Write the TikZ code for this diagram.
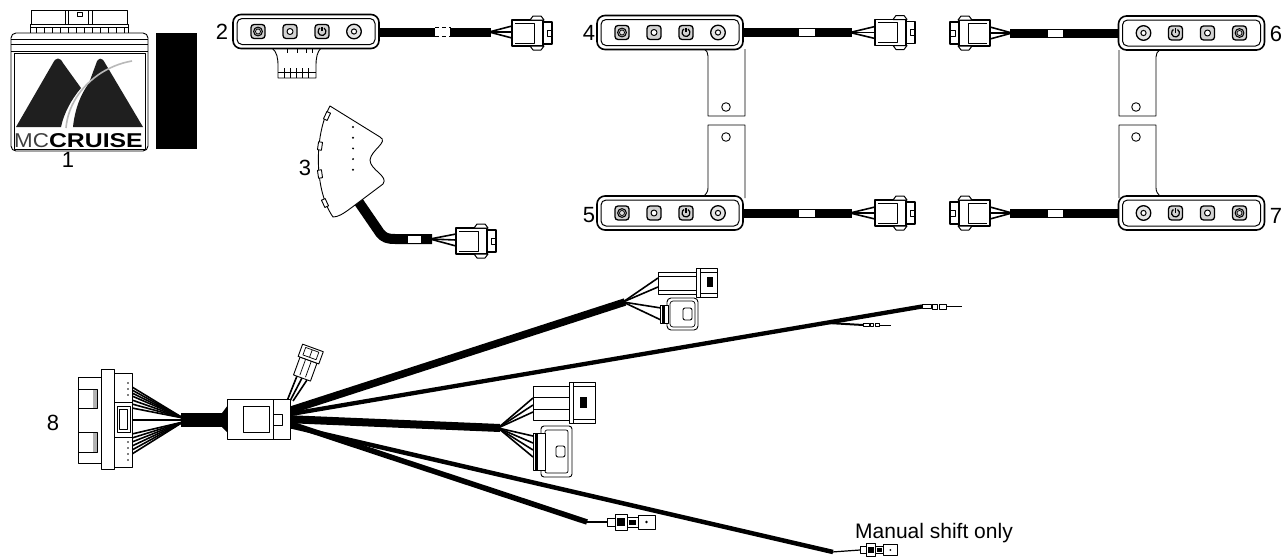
\documentclass[tikz,border=0pt]{standalone}
\usepackage{fontspec}
\setmainfont{Liberation Sans}
\tikzset{
  ln/.style={draw=black,line width=0.9pt},
  thin/.style={draw=black,line width=0.7pt},
  wire/.style={draw=black,line width=1.6pt},
  cable/.style={draw=black,line width=9pt},
  lbl/.style={font=\fontsize{22}{26}\selectfont,inner sep=0pt,anchor=base},
  btn/.style={draw=black,fill=gray!35,line width=1.3pt,rounded corners=3pt},
  btnring/.pic={
    \draw[btn] (-7,-7) rectangle (7,7);
    \draw[line width=1pt,fill=gray!65] (0,0) circle[radius=4.4];
    \draw[line width=0.7pt,fill=gray!25] (0,0) circle[radius=2.5];
  },
  btnhole/.pic={
    \draw[btn] (-7,-7) rectangle (7,7);
    \draw[line width=1pt,fill=white] (0,0) circle[radius=3];
  },
  btnpower/.pic={
    \draw[btn] (-7,-7) rectangle (7,7);
    \draw[line width=1.2pt] (-60:4) arc[start angle=-60,end angle=240,radius=4];
    \draw[line width=1.2pt] (0,-0.5) -- (0,-5);
  },
  btnround/.pic={
    \draw[line width=1.3pt,fill=gray!20] (0,0) circle[radius=7.3];
    \draw[line width=1pt,fill=white] (0,0) circle[radius=2.6];
  },
  panelframe/.pic={
    \draw[line width=1.6pt,fill=white,rounded corners=8pt] (-73,-17) rectangle (73,17);
    \draw[line width=1pt,rounded corners=5pt] (-69,-13) rectangle (69,13);
  },
  panelA/.pic={
    \pic {panelframe};
    \pic at (-48,0) {btnring};
    \pic at (-16,0) {btnhole};
    \pic at (16,0) {btnpower};
    \pic at (48,0) {btnround};
  },
  panelB/.pic={
    \pic {panelframe};
    \pic at (-48,0) {btnround};
    \pic at (-16,0) {btnpower};
    \pic at (16,0) {btnhole};
    \pic at (48,0) {btnring};
  },
  plug/.pic={
    \draw[line width=1.1pt,fill=white] (0,-13) rectangle (31,13);
    \draw[thin] (3,-10) -- (22,-10) -- (22,10) -- (3,10);
    \draw[line width=1pt,fill=white] (18,-13) -- (21,-17) -- (29,-17) -- (32,-13) -- cycle;
    \draw[line width=1pt,fill=white] (18,13) -- (21,17) -- (29,17) -- (32,13) -- cycle;
    \draw[line width=1.1pt,fill=white] (31,-11) rectangle (40,11);
    \draw[thin] (35,-3) rectangle (40,3);
  },
  plugtwo/.pic={
    \draw[ln,fill=white] (0,-9) rectangle (19,9);
    \draw[thin] (2,-3) -- (19,-3) (2,3) -- (19,3);
    \draw[ln,fill=white] (19,-11) rectangle (32,11);
    \draw[thin] (22,-7) rectangle (30,7) (22,0) -- (30,0);
  },
  termplug/.pic={
    \draw[ln,fill=white] (0,-4) rectangle (8,4);
    \draw[ln,fill=white] (8,-8) rectangle (20,8);
    \fill (10,-4) rectangle (18,4);
    \draw[ln,fill=white] (20,-5) rectangle (31,5);
    \fill (22,-2.5) rectangle (29,2.5);
    \draw[ln,fill=white] (31,-7) rectangle (48,7);
    \fill (39.5,0) circle[radius=1.3];
  },
  tinypin/.pic={
    \draw[thin,fill=white] (0,-2) rectangle (9,2);
    \draw[thin,fill=white] (10,-2.5) rectangle (15,2.5);
    \draw[thin,fill=white] (17,-2.5) rectangle (24,2.5);
    \draw[line width=1pt] (24,0) -- (40,0);
  },
}
\begin{document}
\begin{tikzpicture}[x=1pt,y=-1pt,line join=round]
\useasboundingbox (0,0) rectangle (1288,557);

% ---------- 1: control unit ----------
\draw[ln,fill=white] (31,10) rectangle (127,24);
\draw[ln] (65,10) -- (65,24) (68,10) -- (68,24) (88,10) -- (88,24) (92,10) -- (92,24);
\draw[ln] (77,12) rectangle (82,16);
\draw[ln,fill=white] (30,24) rectangle (128,33);
\draw[ln] (30,27) -- (128,27);
\foreach \xx in {36,44,...,124} \draw[thin] (\xx,27) -- (\xx,33);
\draw[ln,fill=white,rounded corners=5pt] (11,33) rectangle (148,151);
\draw[ln] (11,39.5) -- (148,39.5) (11,44) -- (148,44) (11,51) -- (148,51);
\draw[ln] (14,53) rectangle (145,149);
\fill[black!88] (16,127) -- (53,63) .. controls (56,57) and (60,57) .. (63,63) -- (81,88) .. controls (71,100) and (64,113) .. (61,127) -- cycle;
\fill[black!88] (73,127) .. controls (75,108) and (81,94) .. (89,83) -- (96,64) .. controls (98,57) and (102,57) .. (105,63) -- (143,127) -- cycle;
\draw[gray!55,line width=1.6pt] (66,128) .. controls (68,106) and (80,88) .. (98,75) .. controls (108,68) and (120,63) .. (132,61);
\node[anchor=base west,inner sep=0pt] (brand) at (14,147) {\fontsize{20}{20}\selectfont\color{black!75}\scalebox{1.12}[1]{MC}\color{black}\scalebox{1.24}[1]{\bfseries CRUISE}};
\fill (156,33) rectangle (197,149);
\node[lbl] (n1) at (68,167) {1};

% ---------- 2: handlebar switch with tab ----------
\draw[ln,fill=white] (272,48) .. controls (277,52) and (278,58) .. (278,66) -- (278,78) -- (316,78) -- (316,66) .. controls (316,58) and (317,52) .. (321,48);
\draw[thin] (278,72.5) -- (316,72.5);
\foreach \xx in {284,290,296,302,308} \draw[thin] (\xx,68) -- (\xx,78);
\foreach \xx in {287,297,306,312} \draw[thin] (\xx,48) -- (\xx,53);
\draw[cable] (378,32) -- (491,32);
\fill[white] (435,26) rectangle (450,38);
\draw[line width=0.8pt,dash pattern=on 4pt off 3pt] (435,27.5) -- (451,27.5) (435,36.5) -- (451,36.5);
\foreach \yy in {26,32,38} \draw[wire] (489,32) -- (512,\yy);
\pic at (512,33) {plug};
\pic at (306,31.5) {panelA};
\node[lbl] (n2) at (222,39) {2};

% ---------- 3: fan-shaped switch ----------
\draw[line width=10pt] (356,198) -- (380,233) .. controls (384,238) and (388,239) .. (395,239) -- (432,239);
\fill[white] (408,235.5) rectangle (421,242.5);
\draw[ln,fill=white] (330,106) -- (380,137) .. controls (389,142) and (371,150) .. (370,160) .. controls (370,170) and (389,176) .. (383,184) -- (351,208) .. controls (343,214) and (338,217) .. (333,217) .. controls (314,190) and (314,135) .. (330,106) -- cycle;
\draw[ln,fill=white,rotate around={-25:(327,116)}] (325,112) rectangle (329,120);
\draw[ln,fill=white,rotate around={-8:(320,146)}] (318,142) rectangle (322,150);
\draw[ln,fill=white,rotate around={8:(320,174)}] (318,170) rectangle (322,178);
\draw[ln,fill=white,rotate around={25:(325,203)}] (323,199) rectangle (327,207);
\foreach \k in {0,...,4} \fill (353,{127+10.7*\k}) circle[radius=1.1];
\foreach \yy in {234,240,246} \draw[wire] (430,239) -- (456,\yy);
\pic at (456,241) {plug};
\node[lbl] (n3) at (305,175) {3};

% ---------- 4 and 5: left-hand switches ----------
\draw[ln,fill=white] (704,49) .. controls (707,51) and (708,53) .. (708,56) -- (708,116) -- (745,116) -- (745,49);
\draw[ln] (726,107) circle[radius=4.3];
\draw[ln,fill=white] (745,198) -- (745,125) -- (708,125) -- (708,188) .. controls (708,192) and (706,194) .. (703,197);
\draw[ln] (726,137) circle[radius=4.3];
\foreach \cy in {32.5,213} {
  \draw[cable] (742,\cy) -- (852,\cy);
  \fill[white] (799,\cy-3.5) rectangle (815,\cy+3.5);
  \foreach \dy in {-6,0,6} \draw[wire] (850,\cy) -- (875,\cy+\dy);
  \pic at (875,\cy) {plug};
  \pic at (670,\cy) {panelA};
}
\node[lbl] (n4) at (589,40) {4};
\node[lbl] (n5) at (589,222) {5};

% ---------- 6 and 7: right-hand switches ----------
\draw[ln,fill=white] (1160,50) .. controls (1157,52) and (1156,54) .. (1156,57) -- (1156,116) -- (1119,116) -- (1119,50);
\draw[ln] (1136,107) circle[radius=4.3];
\draw[ln,fill=white] (1119,198) -- (1119,125) -- (1156,125) -- (1156,188) .. controls (1156,192) and (1158,194) .. (1161,197);
\draw[ln] (1136,137) circle[radius=4.3];
\foreach \cy in {33,213} {
  \draw[cable] (1010,\cy) -- (1120,\cy);
  \fill[white] (1048,\cy-3.5) rectangle (1063,\cy+3.5);
  \foreach \dy in {-6,0,6} \draw[wire] (1012,\cy) -- (990,\cy+\dy);
  \pic[xscale=-1] at (990,\cy) {plug};
  \pic at (1191.5,\cy) {panelB};
}
\node[lbl] (n6) at (1276,41) {6};
\node[lbl] (n7) at (1276,223) {7};

% ---------- 8: main harness ----------
% branches leaving the junction box
\draw[line width=7.5pt] (285,412) -- (625,302);
\draw[line width=4.3pt] (285,415) -- (922,306.5);
\draw[line width=2pt] (828,323) -- (863,325);
\draw[line width=8pt] (285,419) -- (500,428);
\draw[line width=5.5pt] (285,422) -- (587,522);
\draw[line width=4.5pt] (285,425) -- (833,552);

% upper pair of plugs
\foreach \yy in {278,287} \draw[wire] (623,302) -- (658,\yy);
\foreach \yy in {308,320} \draw[wire] (623,302) -- (661,\yy);
\draw[ln,fill=white] (658,272) rectangle (696,294);
\draw[thin] (658,276) -- (696,276) (658,290) -- (696,290);
\draw[ln,fill=white] (696,268) rectangle (717,297);
\draw[thin] (700,268) -- (700,297) (700,272) -- (717,272) (700,293) -- (717,293);
\fill (707,277) rectangle (713,287);
\draw[ln,fill=white,rounded corners=4pt] (667,298) rectangle (698,330);
\draw[thin,rounded corners=3pt] (670,301) rectangle (695,327);
\draw[ln,fill=white] (660,305) rectangle (668,323);
\fill (662,305) rectangle (664.5,323);
\draw[ln,rounded corners=2pt] (683,308) rectangle (692,320);

% lower pair of plugs
\foreach \yy in {398,405,412} \draw[wire] (498,428) -- (533,\yy);
\foreach \yy in {436,443,450,457} \draw[wire] (498,428) -- (533,\yy);
\draw[ln,fill=white] (533,386) rectangle (569,420);
\draw[thin] (533,397) -- (569,397) (533,409) -- (569,409);
\draw[ln,fill=white] (569,382) rectangle (595,423);
\draw[thin] (573,382) -- (573,423) (573,386) -- (595,386) (573,419) -- (595,419);
\fill (580,397) rectangle (587,408);
\draw[ln,fill=white,rounded corners=3pt] (541,426) rectangle (572,477);
\draw[thin,rounded corners=2pt] (545,430) rectangle (568,473);
\draw[ln,fill=white] (533,433) rectangle (545,470);
\fill (535,433) rectangle (538,470);
\draw[ln,rounded corners=2pt] (556,446) rectangle (565,457);

% single terminals
\pic at (922,306.5) {tinypin};
\pic[scale=0.7] at (863,325) {tinypin};
\draw[line width=1.2pt] (586,522) -- (607,522);
\pic at (607,522) {termplug};
\draw[line width=1.2pt] (832,552) -- (860,550);
\pic[scale=0.77] at (860,550) {termplug};
\node[font=\fontsize{21}{25}\selectfont,anchor=base west,inner sep=0pt] (manual) at (855,538) {Manual shift only};

% small plug on top of the junction box
\draw[wire] (287,401) -- (297,376);
\draw[wire] (290,401) -- (302,378);
\draw[wire] (293,401) -- (307,380);
\pic[rotate=70] at (302,378) {plugtwo};

% bundle and junction box
\foreach \yy in {387,390,393,396,400,404,408} \draw[wire] (132,\yy) -- (183,418);
\draw[wire] (132,420) -- (183,420);
\foreach \yy in {434,438,442,446,450,454} \draw[wire] (132,\yy) -- (183,422);
\fill (181,413) rectangle (224,427);
\fill (222,413) -- (228,405) -- (228,433) -- (222,427) -- cycle;
\draw[ln,fill=white] (227,399) rectangle (290,439);
\draw[ln] (273,399) -- (273,439);
\draw[ln] (243,406) rectangle (269,432);
\draw[ln] (273,414) rectangle (282,425);

% diagnostic connector
\draw[ln,fill=white] (78,377) rectangle (102,463);
\draw[ln,fill=white] (78,389) rectangle (97,408);
\fill[gray!60] (93,389.5) rectangle (96.5,407.5);
\draw[ln,fill=white] (78,432) rectangle (97,452);
\fill[gray!60] (93,432.5) rectangle (96.5,451.5);
\draw[ln,fill=white] (101,369) rectangle (114,469);
\draw[ln,fill=white] (114,373) rectangle (132,467);
\draw[ln] (114,402) -- (132,402) (114,437) -- (132,437);
\draw[ln] (117,406) rectangle (130,432);
\draw[thin] (119,409) rectangle (127,429);
\foreach \yy in {383,389,395,442,448,454,460} \fill (128,\yy) circle[radius=0.8];
\node[lbl] (n8) at (53,430) {8};
\end{tikzpicture}
\end{document}
